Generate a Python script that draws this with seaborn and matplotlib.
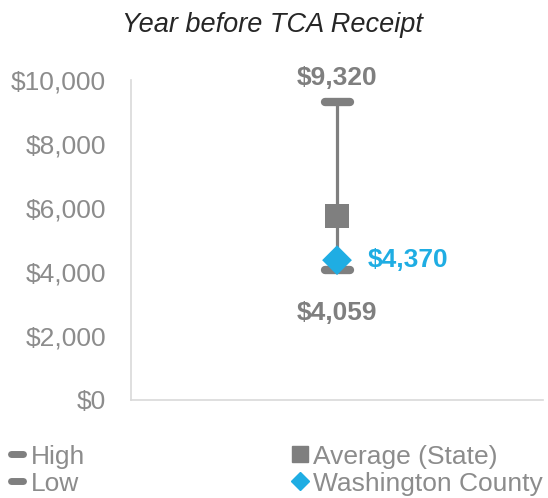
import matplotlib
matplotlib.use("Agg")
import matplotlib.pyplot as plt
from matplotlib.markers import MarkerStyle
from matplotlib.lines import Line2D
import seaborn as sns
import pandas as pd

# data
group = ["Year before TCA Receipt"]
high = [9320]
low = [4059]
average_state = [5745]
county = [4370]
series_names = ["High", "Low", "Average (State)", "Washington County"]
y_ticks = [0, 2000, 4000, 6000, 8000, 10000]

GRAY = "#7f7f7f"
TICK_GRAY = "#8c8c8c"
BLUE = "#1fade3"

sns.set_style("white")
plt.rcParams["font.family"] = ["Liberation Sans", "DejaVu Sans"]

fig = plt.figure(figsize=(5.48, 4.98), dpi=100)
ax = fig.add_axes([0.239, 0.197, 0.752, 0.642])

df = pd.DataFrame({"x": group * 2, "y": high + low})
sns.lineplot(data=df, x="x", y="y", ax=ax, color=GRAY, linewidth=2.3, estimator=None,
             sort=False, zorder=1)

dash = MarkerStyle("_", capstyle="round")
ax.plot(group, high, linestyle="none", marker=dash, markersize=18, mew=6, color=GRAY, zorder=2)
ax.plot(group, low, linestyle="none", marker=dash, markersize=18, mew=6, color=GRAY, zorder=2)
sns.scatterplot(x=group, y=average_state, ax=ax, marker="s", s=300, color=GRAY,
                edgecolor="none", zorder=3)
sns.scatterplot(x=group, y=county, ax=ax, marker="D", s=230, color=BLUE,
                edgecolor="none", zorder=4)

ax.annotate(f"${high[0]:,}", (0, high[0]), xytext=(0, 17), textcoords="offset points",
            ha="center", va="center", fontsize=19, fontweight="bold", color=GRAY)
ax.annotate(f"${low[0]:,}", (0, low[0]), xytext=(0, -31), textcoords="offset points",
            ha="center", va="center", fontsize=19, fontweight="bold", color=GRAY)
ax.annotate(f"${county[0]:,}", (0, county[0]), xytext=(22, 0), textcoords="offset points",
            ha="left", va="center", fontsize=19, fontweight="bold", color=BLUE)

ax.set_xlim(-0.5, 0.5)
ax.set_ylim(0, 10000)
ax.set_yticks(y_ticks)
ax.set_yticklabels([f"${v:,}" for v in y_ticks], fontsize=19, color=TICK_GRAY)
ax.set_xticks([])
ax.set_xlabel("")
ax.set_ylabel("")
ax.tick_params(axis="y", length=0, pad=18)
for s in ["top", "right"]:
    ax.spines[s].set_visible(False)
for s in ["left", "bottom"]:
    ax.spines[s].set_color("#d9d9d9")
    ax.spines[s].set_linewidth(1.2)

fig.text(0.498, 0.95, group[0], ha="center", va="center", fontsize=19.5,
         style="italic", color="#262626")

handles = [
    Line2D([], [], linestyle="none", marker=dash, markersize=8, mew=5, color=GRAY),
    Line2D([], [], linestyle="none", marker=dash, markersize=8, mew=5, color=GRAY),
    Line2D([], [], linestyle="none", marker="s", markersize=12, color=GRAY),
    Line2D([], [], linestyle="none", marker="D", markersize=9, color=BLUE),
]
leg = fig.legend(handles, series_names, ncol=2, loc="upper left",
                 bbox_to_anchor=(0.005, 0.118), frameon=False, fontsize=19,
                 handlelength=0.7, handletextpad=0.15, columnspacing=7.8,
                 labelspacing=0.12, borderaxespad=0, borderpad=0.2)
for t in leg.get_texts():
    t.set_color(TICK_GRAY)

fig.savefig("out.png", dpi=100)
